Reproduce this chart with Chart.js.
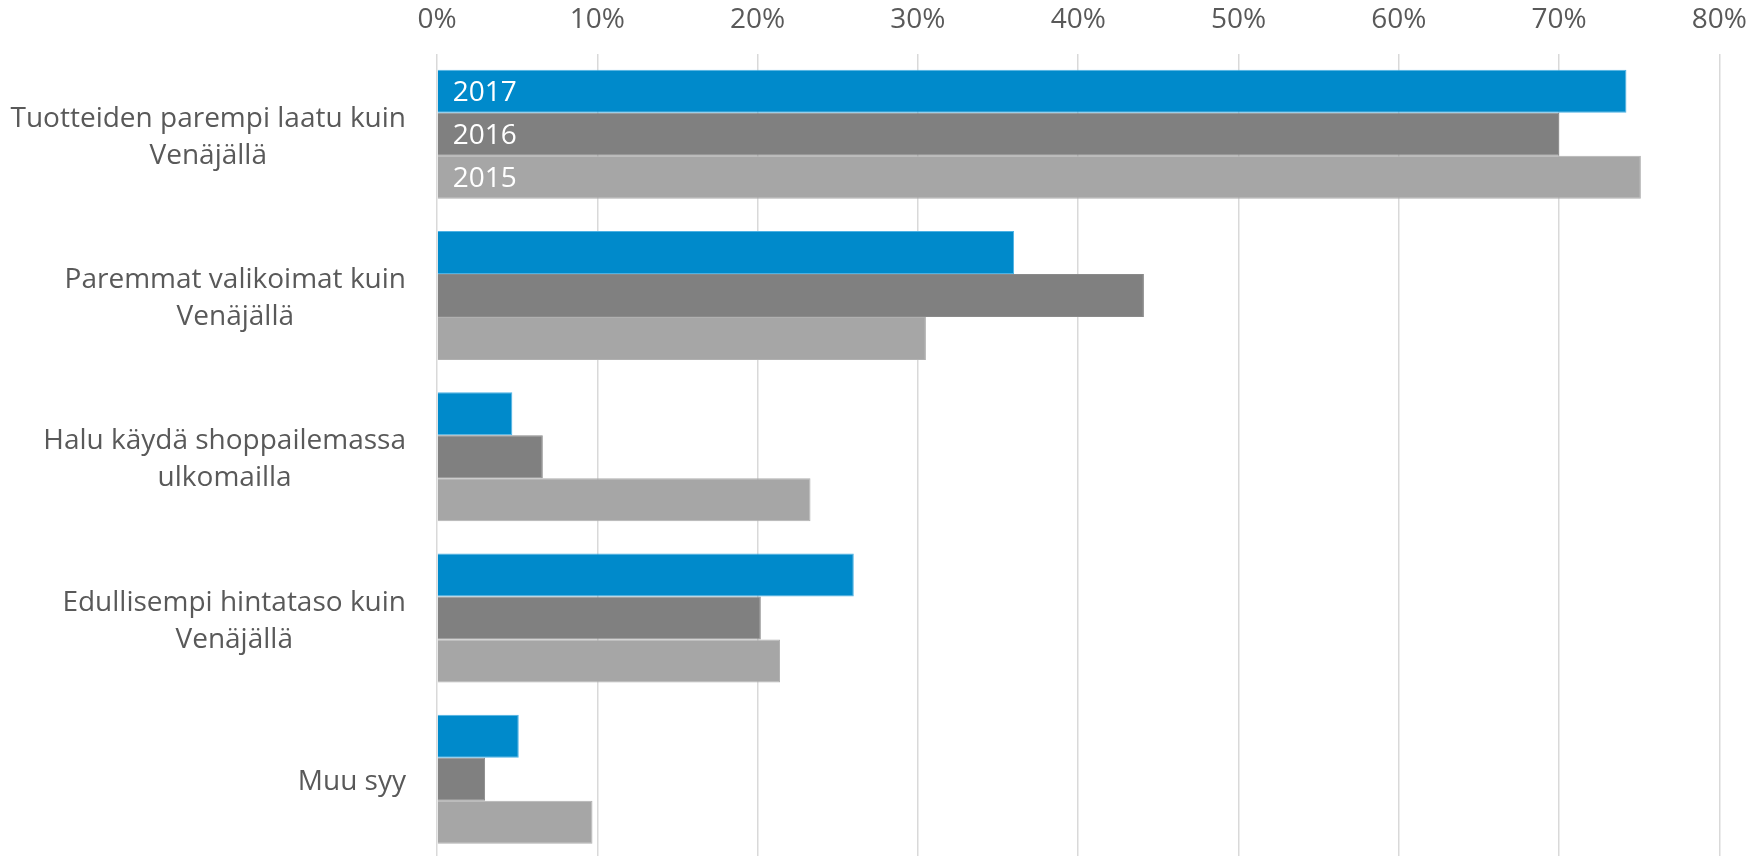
<!DOCTYPE html>
<html>
<head>
<meta charset="utf-8">
<script src="https://cdn.jsdelivr.net/npm/chart.js@4/dist/chart.umd.min.js"></script>
<style>
  html, body { margin: 0; padding: 0; overflow: hidden; background: #ffffff; }
  #wrap { position: relative; width: 1764px; height: 860px; }
</style>
</head>
<body>
<div id="wrap"><canvas id="c"></canvas></div>
<script>
const categories = [
  ["Tuotteiden parempi laatu kuin", "Venäjällä"],
  ["Paremmat valikoimat kuin", "Venäjällä"],
  ["Halu käydä shoppailemassa", "ulkomailla"],
  ["Edullisempi hintataso kuin", "Venäjällä"],
  ["Muu syy"]
];
const seriesNames = ["2017", "2016", "2015"];
const values2017 = [74.2, 36.0, 4.7, 26.0, 5.1];
const values2016 = [70.0, 44.1, 6.6, 20.2, 3.0];
const values2015 = [75.1, 30.5, 23.3, 21.4, 9.7];
const tickValues = [0, 10, 20, 30, 40, 50, 60, 70, 80];

const FONT_FAMILY = "'Open Sans', 'Noto Sans', sans-serif";
const FONT_SIZE = 28;
const TEXT_COLOR = '#595959';

const labelPlugin = {
  id: 'customLabels',
  afterDatasetsDraw(chart) {
    const ctx = chart.ctx;
    const yScale = chart.scales.y;
    const right = chart.chartArea.left - 31;
    ctx.save();
    ctx.font = FONT_SIZE + 'px ' + FONT_FAMILY;
    ctx.textBaseline = 'middle';
    ctx.textAlign = 'center';
    ctx.fillStyle = TEXT_COLOR;
    const lineH = 37;
    categories.forEach((lines, i) => {
      const cy = yScale.getPixelForValue(i) + 3;
      const w = Math.max(...lines.map(l => ctx.measureText(l).width));
      const cx = right - w / 2;
      const n = lines.length;
      lines.forEach((l, j) => ctx.fillText(l, cx, cy + (j - (n - 1) / 2) * lineH));
    });
    ctx.textAlign = 'left';
    ctx.fillStyle = '#ffffff';
    chart.data.datasets.forEach((ds, di) => {
      const bar = chart.getDatasetMeta(di).data[0];
      ctx.fillText(ds.label, bar.base + 15, bar.y + 2);
    });
    ctx.restore();
  }
};

new Chart(document.getElementById('c'), {
  type: 'bar',
  data: {
    labels: categories,
    datasets: [
      { label: seriesNames[0], data: values2017, backgroundColor: '#008ACB', borderColor: '#4DB2E4', borderWidth: 1 },
      { label: seriesNames[1], data: values2016, backgroundColor: '#808080', borderColor: '#8A8A8A', borderWidth: 1 },
      { label: seriesNames[2], data: values2015, backgroundColor: '#A6A6A6', borderColor: '#B0B0B0', borderWidth: 1 }
    ]
  },
  plugins: [labelPlugin],
  options: {
    indexAxis: 'y',
    responsive: true,
    maintainAspectRatio: false,
    animation: false,
    events: [],
    layout: { padding: { left: 437, right: 43, top: -14, bottom: 0 } },
    datasets: { bar: { categoryPercentage: 0.8, barPercentage: 1.0 } },
    plugins: { legend: { display: false }, tooltip: { enabled: false } },
    scales: {
      x: {
        position: 'top',
        min: 0,
        max: 80,
        afterBuildTicks(scale) { scale.ticks = tickValues.map(v => ({ value: v })); },
        ticks: {
          callback: v => v + '%',
          color: TEXT_COLOR,
          font: { family: FONT_FAMILY, size: FONT_SIZE },
          padding: 17,
          maxRotation: 0
        },
        grid: { color: '#D9D9D9', lineWidth: 1.5, drawTicks: false },
        border: { display: false }
      },
      y: {
        display: false
      }
    }
  }
});
</script>
</body>
</html>
